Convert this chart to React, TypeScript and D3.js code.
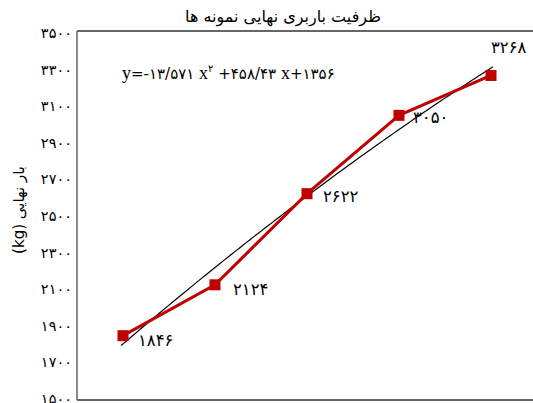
import React from "react";
import * as d3 from "d3";

const categories = [1, 2, 3, 4, 5];
const loads = [1846, 2124, 2622, 3050, 3268];
const yTicks = [1500, 1700, 1900, 2100, 2300, 2500, 2700, 2900, 3100, 3300, 3500];
const trendCoef = [-13.571, 458.43, 1356];
const trendRange = [0.98, 5.02];
const title = "ظرفیت باربری نهایی نمونه ها";
const yLabel = "بار نهایی (kg)";

const W = 533;
const H = 403;
const fa = (n: number | string) => String(n).replace(/[0-9]/g, (d) => "۰۱۲۳۴۵۶۷۸۹"[+d]);

export default function App() {
  const x = d3.scaleLinear().domain([1, 5]).range([123, 491]);
  const y = d3.scaleLinear().domain([1500, 3500]).range([399, 33]);
  const trend = (t: number) => trendCoef[0] * t * t + trendCoef[1] * t + trendCoef[2];
  const trendPts = d3.range(trendRange[0], trendRange[1] + 0.001, 0.04).map((t) => [t, trend(t)] as [number, number]);
  const trendLine = d3.line<[number, number]>().x((d) => x(d[0])).y((d) => y(d[1]))(trendPts) || "";
  const dataLine = d3.line<number>().x((_, i) => x(categories[i])).y((d) => y(d))(loads) || "";
  const labelOffsets = [
    [15, 10],
    [18, 10],
    [16, 8],
    [14, 8],
    [0, -22],
  ];
  const font = "'Liberation Serif', 'DejaVu Sans', serif";
  const frameColor = "#666";
  const left = 77, top = 31, bottom = 400;
  return (
    <svg width={W} height={H} style={{ position: "absolute", left: 0, top: 0, background: "#fff" }} fontFamily={font}>
      <text x={283} y={22} textAnchor="middle" fontSize={16} fontFamily="'DejaVu Sans', sans-serif" direction="rtl">
        {title}
      </text>
      <line x1={left} x2={W} y1={top} y2={top} stroke={frameColor} strokeWidth={2} />
      <line x1={left} x2={W} y1={bottom} y2={bottom} stroke={frameColor} strokeWidth={2} />
      <line x1={left} x2={left} y1={top} y2={bottom} stroke={frameColor} strokeWidth={1.5} />
      {yTicks.map((t) => (
        <text key={t} x={72} y={y(t) + 5} textAnchor="end" fontSize={14.5} fontFamily="'DejaVu Sans', sans-serif">
          {fa(t)}
        </text>
      ))}
      <text
        transform={`translate(24,210) rotate(-90)`}
        textAnchor="middle"
        fontSize={15}
        fontFamily="'DejaVu Sans', sans-serif"
        direction="rtl"
      >
        {yLabel}
      </text>
      <path d={trendLine} fill="none" stroke="#000" strokeWidth={1.2} />
      <path d={dataLine} fill="none" stroke="#c00000" strokeWidth={3} />
      {loads.map((v, i) => (
        <rect key={i} x={x(categories[i]) - 5.5} y={y(v) - 5.5} width={11} height={11} fill="#c00000" />
      ))}
      {loads.map((v, i) => (
        <text
          key={"l" + i}
          x={x(categories[i]) + labelOffsets[i][0]}
          y={y(v) + labelOffsets[i][1]}
          fontSize={16.5}
          fontFamily="'DejaVu Sans', sans-serif"
        >
          {fa(v)}
        </text>
      ))}
      <text x={122} y={79} fontSize={15} fontFamily="'DejaVu Sans', sans-serif">
        <tspan fontFamily="'Liberation Serif', serif" fontSize={18}>y</tspan>
        <tspan>{"=-" + fa("13/571") + " "}</tspan>
        <tspan fontFamily="'Liberation Serif', serif" fontSize={18}>x</tspan>
        <tspan fontSize={10} dy={-7}>{fa(2)}</tspan>
        <tspan dy={7}>{" +" + fa("458/43") + " "}</tspan>
        <tspan fontFamily="'Liberation Serif', serif" fontSize={18}>x</tspan>
        <tspan>{"+" + fa(1356)}</tspan>
      </text>
    </svg>
  );
}
